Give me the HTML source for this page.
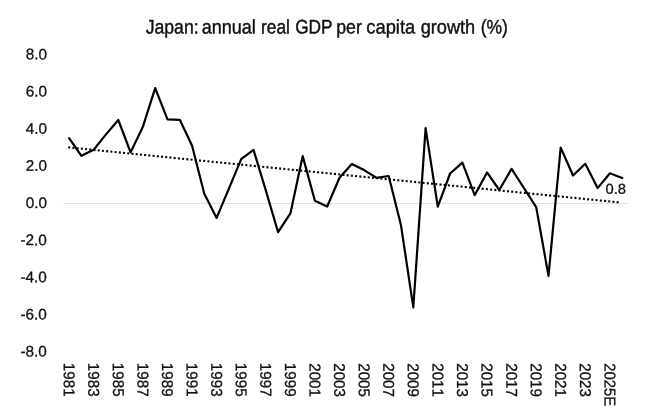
<!DOCTYPE html>
<html><head><meta charset="utf-8"><title>Japan: annual real GDP per capita growth (%)</title>
<style>
html,body{margin:0;padding:0;background:#fff;}
svg{display:block;filter:blur(0.45px);}
text{font-family:"Liberation Sans",Arial,sans-serif;fill:#111;stroke:#111;stroke-width:0.3px;font-kerning:none;}
#title text{stroke-width:0.42px;}

</style></head><body>
<svg width="650" height="418" viewBox="0 0 650 418">
<rect width="650" height="418" fill="#fff"/>
<g id="title">
<text transform="translate(145.64,33.4) rotate(0.1) scale(0.9006,1)" font-size="19.6">Japan:</text>
<text transform="translate(201.69,33.4) rotate(0.1) scale(0.9215,1)" font-size="19.6">annual</text>
<text transform="translate(261.08,33.4) rotate(0.1) scale(0.8808,1)" font-size="19.6">real</text>
<text transform="translate(295.14,33.4) rotate(0.1) scale(0.8796,1)" font-size="19.6">GDP</text>
<text transform="translate(336.25,33.4) rotate(0.1) scale(0.9045,1)" font-size="19.6">per</text>
<text transform="translate(366.28,33.4) rotate(0.1) scale(0.9349,1)" font-size="19.6">capita</text>
<text transform="translate(420.67,33.4) rotate(0.1) scale(0.9270,1)" font-size="19.6">growth</text>
<text transform="translate(480.65,33.4) rotate(0.1) scale(0.8924,1)" font-size="19.6">(%)</text>
</g>
<line x1="63" y1="203.5" x2="628.5" y2="203.5" stroke="#e1e1e1" stroke-width="1"/>
<g class="ax">
<text transform="translate(25.65,59.35) rotate(0.15)" font-size="15.3">8.0</text>
<text transform="translate(25.65,96.50) rotate(0.15)" font-size="15.3">6.0</text>
<text transform="translate(25.65,133.65) rotate(0.15)" font-size="15.3">4.0</text>
<text transform="translate(25.65,170.80) rotate(0.15)" font-size="15.3">2.0</text>
<text transform="translate(25.65,207.95) rotate(0.15)" font-size="15.3">0.0</text>
<text transform="translate(20.52,245.10) rotate(0.15)" font-size="15.3">-2.0</text>
<text transform="translate(20.52,282.25) rotate(0.15)" font-size="15.3">-4.0</text>
<text transform="translate(20.52,319.40) rotate(0.15)" font-size="15.3">-6.0</text>
<text transform="translate(20.52,356.55) rotate(0.15)" font-size="15.3">-8.0</text>
<text transform="translate(63.69, 362.86) rotate(89.85) scale(1,1.03)" font-size="15.2">1981</text>
<text transform="translate(88.27, 362.86) rotate(89.85) scale(1,1.03)" font-size="15.2">1983</text>
<text transform="translate(112.85, 362.86) rotate(89.85) scale(1,1.03)" font-size="15.2">1985</text>
<text transform="translate(137.43, 362.86) rotate(89.85) scale(1,1.03)" font-size="15.2">1987</text>
<text transform="translate(162.01, 362.86) rotate(89.85) scale(1,1.03)" font-size="15.2">1989</text>
<text transform="translate(186.59, 362.86) rotate(89.85) scale(1,1.03)" font-size="15.2">1991</text>
<text transform="translate(211.17, 362.86) rotate(89.85) scale(1,1.03)" font-size="15.2">1993</text>
<text transform="translate(235.75, 362.86) rotate(89.85) scale(1,1.03)" font-size="15.2">1995</text>
<text transform="translate(260.33, 362.86) rotate(89.85) scale(1,1.03)" font-size="15.2">1997</text>
<text transform="translate(284.91, 362.86) rotate(89.85) scale(1,1.03)" font-size="15.2">1999</text>
<text transform="translate(309.49, 363.24) rotate(89.85) scale(1,1.03)" font-size="15.2">2001</text>
<text transform="translate(334.07, 363.24) rotate(89.85) scale(1,1.03)" font-size="15.2">2003</text>
<text transform="translate(358.65, 363.24) rotate(89.85) scale(1,1.03)" font-size="15.2">2005</text>
<text transform="translate(383.23, 363.24) rotate(89.85) scale(1,1.03)" font-size="15.2">2007</text>
<text transform="translate(407.81, 363.24) rotate(89.85) scale(1,1.03)" font-size="15.2">2009</text>
<text transform="translate(432.39, 363.24) rotate(89.85) scale(1,1.03)" font-size="15.2">2011</text>
<text transform="translate(456.97, 363.24) rotate(89.85) scale(1,1.03)" font-size="15.2">2013</text>
<text transform="translate(481.55, 363.24) rotate(89.85) scale(1,1.03)" font-size="15.2">2015</text>
<text transform="translate(506.13, 363.24) rotate(89.85) scale(1,1.03)" font-size="15.2">2017</text>
<text transform="translate(530.71, 363.24) rotate(89.85) scale(1,1.03)" font-size="15.2">2019</text>
<text transform="translate(555.29, 363.24) rotate(89.85) scale(1,1.03)" font-size="15.2">2021</text>
<text transform="translate(579.87, 363.24) rotate(89.85) scale(1,1.03)" font-size="15.2">2023</text>
<text transform="translate(604.45, 363.24) rotate(89.85) scale(0.975,1.03)" font-size="15.2">2025E</text>
</g>
<line x1="68.2" y1="147.36" x2="619.4" y2="202.4" stroke="#000" stroke-width="2.1" stroke-dasharray="2 2.24"/>
<polyline points="69.1,138.2 81.4,155.8 93.7,149.7 106.0,134.4 118.3,120.0 130.6,152.4 142.9,126.7 155.2,88.1 167.5,119.3 179.8,119.8 192.0,145.5 204.3,193.8 216.6,217.9 228.9,188.6 241.2,159.2 253.5,149.9 265.8,190.4 278.1,232.2 290.4,213.4 302.7,156.1 314.9,200.8 327.2,206.5 339.5,177.8 351.8,164.0 364.1,170.1 376.4,177.8 388.7,176.0 401.0,225.3 413.3,307.4 425.6,128.2 437.8,206.6 450.1,173.5 462.4,162.6 474.7,195.2 487.0,172.4 499.3,190.0 511.6,168.8 523.9,188.0 536.2,207.1 548.5,275.9 560.7,147.6 573.0,175.5 585.3,163.7 597.6,188.1 609.9,173.3 622.2,178.0" fill="none" stroke="#000" stroke-width="2.2" stroke-linejoin="round" stroke-linecap="round"/>
<text transform="translate(605.5,193.85) rotate(0.1) scale(0.985,0.96)" font-size="15">0.8</text>
</svg>
</body></html>
